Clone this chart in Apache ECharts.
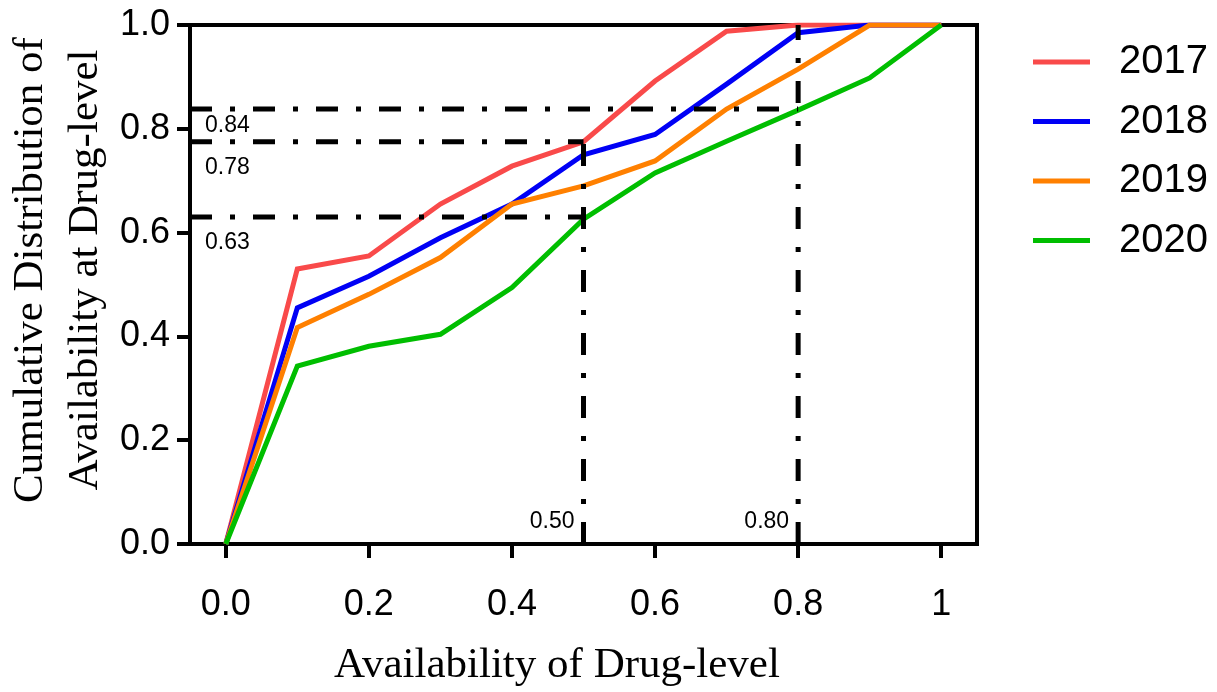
<!DOCTYPE html>
<html>
<head>
<meta charset="utf-8">
<script src="https://cdn.jsdelivr.net/npm/echarts@6/dist/echarts.min.js"></script>
<style>html,body{margin:0;padding:0;background:#fff}#c{width:1217px;height:692px}</style>
</head>
<body>
<div id="c"></div>
<script>
// ---- data ----
const xValues = [0, 0.1, 0.2, 0.3, 0.4, 0.5, 0.6, 0.7, 0.8, 0.9, 1.0];
const years = ['2017', '2018', '2019', '2020'];
const s2017 = [0, 0.53, 0.555, 0.655, 0.728, 0.775, 0.892, 0.988, 1.0, 1.0, 1.0];
const s2018 = [0, 0.455, 0.516, 0.59, 0.655, 0.75, 0.789, 0.886, 0.985, 1.0, 1.0];
const s2019 = [0, 0.417, 0.481, 0.552, 0.655, 0.69, 0.738, 0.838, 0.915, 1.0, 1.0];
const s2020 = [0, 0.343, 0.381, 0.404, 0.494, 0.626, 0.715, 0.776, 0.836, 0.898, 1.0];
const xTickValues = [0, 0.2, 0.4, 0.6, 0.8, 1.0];
const xTickLabels = ['0.0', '0.2', '0.4', '0.6', '0.8', '1'];
const yTickLabels = ['0.0', '0.2', '0.4', '0.6', '0.8', '1.0'];
const hRefValues = [0.838, 0.775, 0.63];
const hRefEnds = [0.8, 0.5, 0.5];
const hRefTexts = ['0.84', '0.78', '0.63'];
const vRefValues = [0.5, 0.8];
const vRefTops = [0.775, 1.0];
const vRefTexts = ['0.50', '0.80'];

const xMin = -0.05, xMax = 1.05;
const colors = ['#F94A4A', '#0000F5', '#FF8000', '#00BE00'];
const seriesVals = [s2017, s2018, s2019, s2020];
const SANS = '"Liberation Sans", Arial, sans-serif';
const SERIF = '"Liberation Serif", "Times New Roman", serif';
const dash = [22, 18, 5, 18];

const chart = echarts.init(document.getElementById('c'), null, {renderer: 'canvas'});

const series = [];
seriesVals.forEach((vals, i) => {
  series.push({
    name: years[i], type: 'line', symbol: 'none', z: 2,
    data: xValues.map((x, k) => [x, vals[k]]),
    lineStyle: {color: colors[i], width: 5, cap: 'butt', join: 'miter'},
    itemStyle: {color: colors[i]}
  });
});
hRefValues.forEach((y, i) => {
  series.push({
    type: 'line', symbol: 'none', z: 5, silent: true,
    data: [[xMin, y], [hRefEnds[i], y]],
    lineStyle: {color: '#000', width: 5, type: dash, cap: 'butt'}
  });
});
vRefValues.forEach((x, i) => {
  series.push({
    type: 'line', symbol: 'none', z: 5, silent: true,
    data: [[x, 0], [x, vRefTops[i]]],
    lineStyle: {color: '#000', width: 5, type: dash, cap: 'butt'}
  });
});
const hOffsets = [17, 26, 26];
series.push({
  type: 'scatter', symbolSize: 0, clip: false, z: 6, silent: true,
  itemStyle: {opacity: 1},
  data: hRefValues.map((y, i) => ({
    value: [xMin, y], name: hRefTexts[i],
    label: {offset: [0, hOffsets[i]]}
  })),
  label: {show: true, position: 'right', distance: 15, formatter: p => p.name,
    fontFamily: SANS, fontSize: 23, color: '#000', opacity: 1}
});
series.push({
  type: 'scatter', symbolSize: 0, clip: false, z: 6, silent: true,
  itemStyle: {opacity: 1},
  data: vRefValues.map((x, i) => ({value: [x, 0], name: vRefTexts[i]})),
  label: {show: true, position: 'left', distance: 9, offset: [0, -22], formatter: p => p.name,
    fontFamily: SANS, fontSize: 23, color: '#000', opacity: 1}
});

chart.setOption({
  animation: false,
  backgroundColor: '#fff',
  grid: {left: 190, right: 240, top: 25, bottom: 148, show: true, borderColor: '#000', borderWidth: 4, containLabel: false},
  legend: {
    data: years, orient: 'vertical', left: 1028, top: 37, icon: 'rect',
    itemWidth: 57, itemHeight: 5, itemGap: 19.5,
    textStyle: {fontFamily: SANS, fontSize: 40, color: '#000', lineHeight: 40, padding: [0, 0, 0, 24]}
  },
  xAxis: {
    type: 'value', min: xMin, max: xMax,
    axisLine: {show: true, onZero: false, lineStyle: {color: '#000', width: 4}},
    axisTick: {show: true, length: 14, lineStyle: {color: '#000', width: 4}, customValues: xTickValues},
    axisLabel: {show: true, customValues: xTickValues, margin: 43,
      formatter: v => { const k = xTickValues.findIndex(t => Math.abs(t - v) < 1e-9); return k >= 0 ? xTickLabels[k] : ''; },
      fontFamily: SANS, fontSize: 36, color: '#000'},
    splitLine: {show: false}
  },
  yAxis: {
    type: 'value', min: 0, max: 1, interval: 0.2,
    axisLine: {show: true, onZero: false, lineStyle: {color: '#000', width: 4}},
    axisTick: {show: true, length: 13, lineStyle: {color: '#000', width: 4}},
    axisLabel: {margin: 20, fontFamily: SANS, fontSize: 36, color: '#000',
      formatter: v => yTickLabels[Math.round(v / 0.2)]},
    splitLine: {show: false}
  },
  graphic: [
    {type: 'text', x: 557, y: 666, style: {text: 'Availability of Drug-level', font: '43px ' + SERIF,
      fill: '#000', textAlign: 'center', textVerticalAlign: 'middle'}},
    {type: 'text', x: 58, y: 270, rotation: Math.PI / 2, style: {
      text: 'Cumulative Distribution of\nAvailability at Drug-level', font: '43px ' + SERIF,
      lineHeight: 55, fill: '#000', textAlign: 'center', textVerticalAlign: 'middle'}}
  ],
  series: series
});
</script>
</body>
</html>
